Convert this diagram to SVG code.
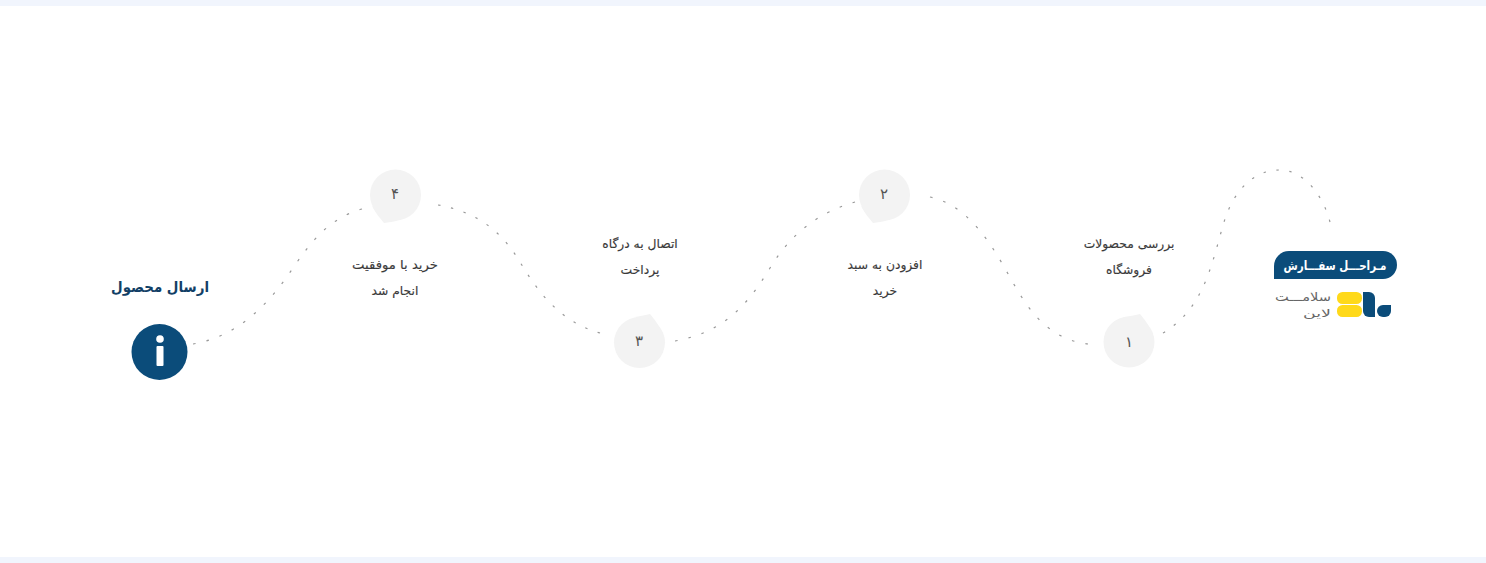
<svg xmlns="http://www.w3.org/2000/svg" width="1486" height="563" viewBox="0 0 1486 563">
<style>
text{font-family:"DejaVu Sans","Noto Sans",sans-serif;direction:rtl;text-anchor:middle}
.lab{font-size:12.300px;fill:#3a3a3a;font-weight:500;stroke:#3a3a3a;stroke-width:.15}
.num{font-size:15px;fill:#555}
.bub{fill:#f3f3f3}
.con{fill:none;stroke:#999;stroke-width:1.200;stroke-dasharray:2.500 11}
</style>
<rect width="1486" height="563" fill="#fff"/>
<rect width="1486" height="6" fill="#f1f5fd"/>
<rect y="557" width="1486" height="6" fill="#f1f5fd"/>
<g id="connectors">
<path class="con" pathLength="299.500" d="M1330 222C1322 192 1302 170 1280 170C1258 170 1236 184 1224 222C1212 262 1205 308 1163 333"/>
<path class="con" pathLength="218.500" d="M1088 344C1040 338 1022 298 1003 265C984 232 962 204 930 197"/>
<path class="con" pathLength="232" d="M855 202C820 212 792 232 770 268C748 304 725 332 675 341"/>
<path class="con" pathLength="218.500" d="M600 333C560 322 538 292 520 262C502 232 478 212 438 205"/>
<path class="con" pathLength="218.500" d="M362 209C330 218 312 240 293 268C270 302 240 336 193 344"/>
</g>
<g id="node-header">
<path d="M1274 279V266A15 15 0 0 1 1289 251H1383A14 14 0 0 1 1383 279Z" fill="#0b4c7a"/>
<text x="1335" y="269.500" font-size="13" font-weight="700" fill="#fff" textLength="103" lengthAdjust="spacingAndGlyphs">مـراحـــل سفـــارش</text>
</g>
<g id="node-logo">
<rect x="1337" y="292" width="25" height="12" rx="5.500" fill="#ffd91a"/>
<rect x="1337" y="305" width="25" height="12" rx="5.500" fill="#ffd91a"/>
<path d="M1363 292H1369A6 6 0 0 1 1375 298V317H1369A6 6 0 0 1 1363 311Z" fill="#0b4c7a"/>
<path d="M1377 311A6 6 0 0 1 1383 305H1391V311A6 6 0 0 1 1385 317H1383A6 6 0 0 1 1377 311Z" fill="#0b4c7a"/>
<text x="1303" y="301" font-size="12" fill="#666" textLength="56" lengthAdjust="spacingAndGlyphs">سلامـــت</text>
<text x="1317" y="317" font-size="10" fill="#666" textLength="28" lengthAdjust="spacingAndGlyphs">لاین</text>
</g>
<g id="node-1">
<path class="bub" d="M1125 317C1131 316 1136 315 1140 314C1144 319 1148 323 1151 331Z"/>
<circle class="bub" cx="1129" cy="342" r="25.500"/>
<text class="num" x="1129" y="347">۱</text>
<text class="lab" x="1129" y="248">بررسی محصولات</text>
<text class="lab" x="1129" y="274">فروشگاه</text>
</g>
<g id="node-2">
<path class="bub" d="M873 223C869 218 865 214 861 206L888 220C883 222 877 222 873 223Z"/>
<circle class="bub" cx="884.500" cy="195" r="25.500"/>
<text class="num" x="884" y="199">۲</text>
<text class="lab" x="885" y="269">افزودن به سبد</text>
<text class="lab" x="885" y="295">خرید</text>
</g>
<g id="node-3">
<path class="bub" d="M635 317C641 316 646 315 650 314C654 319 658 323 661 331Z"/>
<circle class="bub" cx="639.500" cy="342.500" r="25.500"/>
<text class="num" x="639" y="346">۳</text>
<text class="lab" x="640" y="248">اتصال به درگاه</text>
<text class="lab" x="640" y="274">پرداخت</text>
</g>
<g id="node-4">
<path class="bub" d="M384 223C380 218 376 214 372 206L399 220C394 222 388 222 384 223Z"/>
<circle class="bub" cx="395.500" cy="195" r="25.500"/>
<text class="num" x="395" y="199">۴</text>
<text class="lab" x="395" y="269" textLength="86" lengthAdjust="spacingAndGlyphs">خرید با موفقیت</text>
<text class="lab" x="395" y="295">انجام شد</text>
</g>
<g id="node-5">
<text x="160" y="292" font-size="15" font-weight="700" fill="#123f66" textLength="98" lengthAdjust="spacingAndGlyphs">ارسال محصول</text>
<circle cx="159.500" cy="352" r="28" fill="#0b4c7a"/>
<circle cx="160" cy="339" r="3.800" fill="#fff"/>
<rect x="156.500" y="346" width="7" height="20" rx="1" fill="#fff"/>
</g>
</svg>
